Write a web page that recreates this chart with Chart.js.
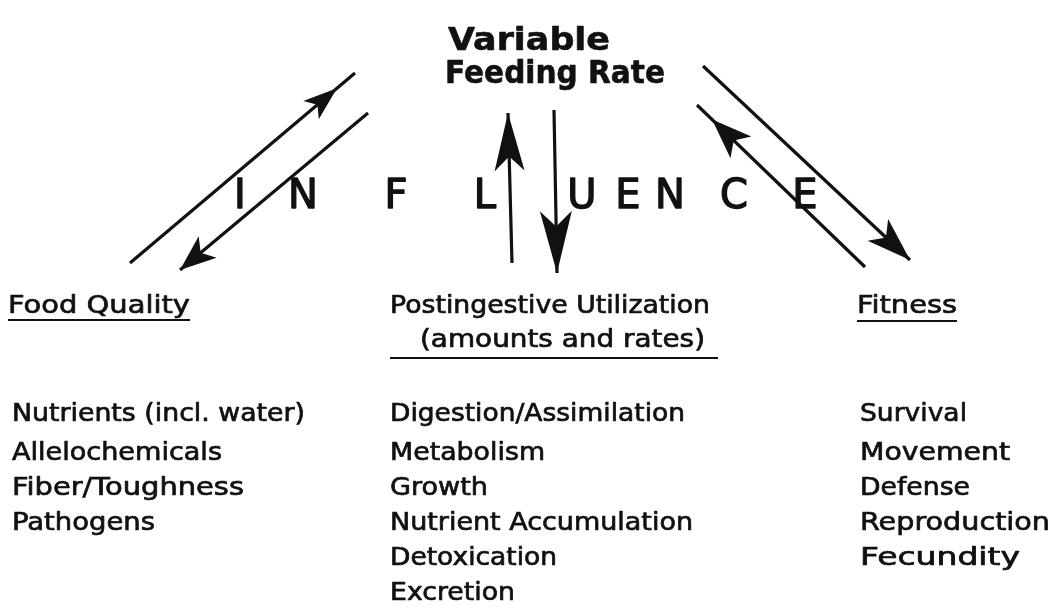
<!DOCTYPE html>
<html>
<head>
<meta charset="utf-8">
<title>Variable Feeding Rate</title>
<script src="https://cdn.jsdelivr.net/npm/chart.js@4.4.1/dist/chart.umd.min.js"></script>
<style>
  html, body { margin: 0; padding: 0; background: #fff; }
  #wrap { width: 1056px; height: 609px; }
</style>
</head>
<body>
<div id="wrap"><canvas id="diagram" width="1056" height="609"></canvas></div>
<script>
// Diagram content
const titleLines = ['Variable', 'Feeding Rate'];
const influence = ['I', 'N', 'F', 'L', 'U', 'E', 'N', 'C', 'E'];
const headers = ['Food Quality', 'Postingestive Utilization', '(amounts and rates)', 'Fitness'];
const foodQuality = ['Nutrients (incl. water)', 'Allelochemicals', 'Fiber/Toughness', 'Pathogens'];
const utilization = ['Digestion/Assimilation', 'Metabolism', 'Growth', 'Nutrient Accumulation', 'Detoxication', 'Excretion'];
const fitness = ['Survival', 'Movement', 'Defense', 'Reproduction', 'Fecundity'];

// Arrow shafts (start -> end, in diagram units) and where the head tip sits (0..1 along the shaft)
const arrowStart = [[130, 263], [368, 113], [512, 263], [554, 110], [703, 66], [865, 267]];
const arrowEnd   = [[355, 73], [180, 270], [508, 113], [557, 273], [910, 260], [697, 105]];
const arrowHeadAt = [0.92, 1, 1, 1, 1, 0.91];

// Layout / style (not data)
const headSize = [[34, 12], [36, 14], [58, 15], [62, 16], [44, 15], [40, 15]];
const layout = {
  title: [{ x: 448, y: 50, w: 162 }, { x: 445, y: 83, w: 220 }],
  influenceX: [240, 303, 396, 485, 582, 628, 670, 734, 805],
  influenceY: 208,
  headers: [{ x: 8, y: 313, w: 182 }, { x: 390, y: 313, w: 320 }, { x: 420, y: 347, w: 285 }, { x: 857, y: 313, w: 100 }],
  underlines: [[8, 190, 320], [390, 718, 358], [857, 957, 321]],
  rowY: [421, 460, 495, 530, 565, 600],
  columns: [
    { x: 12, w: [293, 210, 232, 143] },
    { x: 390, w: [295, 155, 98, 303, 167, 125] },
    { x: 860, w: [107, 150, 110, 190, 160] }
  ]
};
const ink = '#111';
const bodyFont = '25px "DejaVu Sans"';

function putText(ctx, text, px, py, font, width, align, weight) {
  ctx.save();
  ctx.font = font;
  ctx.fillStyle = ink;
  ctx.strokeStyle = ink;
  ctx.lineJoin = 'round';
  ctx.textBaseline = 'alphabetic';
  ctx.textAlign = align || 'left';
  const m = ctx.measureText(text).width;
  const sx = width ? width / m : 1;
  ctx.translate(px, py);
  ctx.scale(sx, 1);
  ctx.fillText(text, 0, 0);
  if (weight) {
    ctx.lineWidth = weight;
    ctx.strokeText(text, 0, 0);
  }
  ctx.restore();
}

function arrowHead(ctx, tx, ty, dx, dy, len, half) {
  const bx = tx - dx * len, by = ty - dy * len;
  const nx = -dy, ny = dx;
  const kx = tx - dx * len * 0.75, ky = ty - dy * len * 0.75;
  ctx.beginPath();
  ctx.moveTo(tx, ty);
  ctx.lineTo(bx + nx * half, by + ny * half);
  ctx.lineTo(kx, ky);
  ctx.lineTo(bx - nx * half, by - ny * half);
  ctx.closePath();
  ctx.fill();
}

const diagramPlugin = {
  id: 'diagram',
  afterDatasetsDraw(chart) {
    const { ctx, scales: { x, y } } = chart;
    const px = v => x.getPixelForValue(v);
    const py = v => y.getPixelForValue(v);

    // arrow heads
    ctx.save();
    ctx.fillStyle = ink;
    arrowStart.forEach((s, i) => {
      const e = arrowEnd[i];
      const x0 = px(s[0]), y0 = py(s[1]), x1 = px(e[0]), y1 = py(e[1]);
      const L = Math.hypot(x1 - x0, y1 - y0);
      const dx = (x1 - x0) / L, dy = (y1 - y0) / L;
      const t = arrowHeadAt[i];
      arrowHead(ctx, x0 + (x1 - x0) * t, y0 + (y1 - y0) * t, dx, dy, headSize[i][0], headSize[i][1]);
    });
    ctx.restore();

    // title
    titleLines.forEach((t, i) => {
      const p = layout.title[i];
      putText(ctx, t, px(p.x), py(p.y), 'bold 32px "DejaVu Sans"', px(p.x + p.w) - px(p.x), 'left', 0.6);
    });

    // INFLUENCE
    influence.forEach((c, i) => {
      putText(ctx, c, px(layout.influenceX[i]), py(layout.influenceY), '40px "DejaVu Sans"', null, 'center', 1.4);
    });

    // headers + underlines
    headers.forEach((h, i) => {
      const p = layout.headers[i];
      putText(ctx, h, px(p.x), py(p.y), bodyFont, px(p.x + p.w) - px(p.x), 'left', 0.7);
    });
    ctx.save();
    ctx.strokeStyle = ink;
    ctx.lineWidth = 2;
    layout.underlines.forEach(u => {
      ctx.beginPath();
      ctx.moveTo(px(u[0]), py(u[2]));
      ctx.lineTo(px(u[1]), py(u[2]));
      ctx.stroke();
    });
    ctx.restore();

    // item lists
    [foodQuality, utilization, fitness].forEach((list, c) => {
      const col = layout.columns[c];
      list.forEach((item, r) => {
        putText(ctx, item, px(col.x), py(layout.rowY[r]), bodyFont, px(col.x + col.w[r]) - px(col.x), 'left', 0.7);
      });
    });
  }
};

new Chart(document.getElementById('diagram'), {
  type: 'scatter',
  data: {
    datasets: arrowStart.map((s, i) => ({
      data: [{ x: s[0], y: s[1] }, { x: arrowEnd[i][0], y: arrowEnd[i][1] }],
      showLine: true,
      borderColor: ink,
      borderWidth: 3.2,
      pointRadius: 0,
      fill: false
    }))
  },
  options: {
    responsive: false,
    animation: false,
    layout: { padding: 0 },
    plugins: { legend: { display: false }, tooltip: { enabled: false } },
    scales: {
      x: { type: 'linear', min: 0, max: 1056, display: false },
      y: { type: 'linear', min: 0, max: 609, reverse: true, display: false }
    }
  },
  plugins: [diagramPlugin]
});
</script>
</body>
</html>
